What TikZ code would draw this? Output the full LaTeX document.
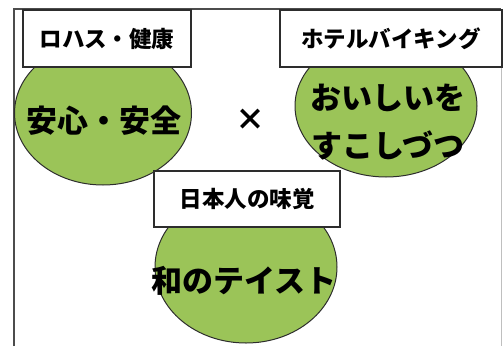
\documentclass[tikz,border=0pt]{standalone}
\usepackage{fontspec}
\newfontfamily\jp{Noto Sans CJK JP}
\usepackage{tikz}
\usetikzlibrary{shapes,positioning}
\definecolor{leaf}{RGB}{155,196,88}
\definecolor{rim}{RGB}{45,45,45}

\begin{document}
\begin{tikzpicture}[x=1pt,y=-1pt,font=\jp\bfseries]
		\tikzstyle{blob}=[ellipse, draw=rim, fill=leaf, line width=1pt, inner sep=0pt]
		\tikzstyle{tag}=[rectangle, draw=rim, fill=white, line width=1.2pt, inner sep=0pt, font=\jp\bfseries\fontsize{22.5}{24}\selectfont]
		\tikzstyle{bigtxt}=[align=center, inner sep=0pt, font=\jp\bfseries\fontsize{31}{48}\selectfont]
		\useasboundingbox (0,0) rectangle (504,346);
		% frame
		\draw[line width=1.2pt, color=black!70] (14,346) -- (14,9) -- (501,9);
		\draw[line width=0.8pt, color=black!25] (501,9) -- (501,346);
		% ellipses
		\node[blob, minimum width=177pt, minimum height=144pt] (anshin) at (103,113) {};
		\node[blob, minimum width=182pt, minimum height=142pt] (oishii) at (386,106) {};
		\node[blob, minimum width=182pt, minimum height=152pt] (wa) at (246,267) {};
		\node[bigtxt] (anshintxt) at (104,121) {安心・安全};
		\node[bigtxt] (oishiitxt) at (388,122) {おいしいを\\すこしづつ};
		\node[bigtxt] (watxt) at (244,281) {和のテイスト};
		\node[font=\jp\bfseries\fontsize{30}{30}\selectfont, inner sep=0pt] (kakeru) at (250,120) {×};
		% labels
		\node[tag, minimum width=168pt, minimum height=57pt] (lohas) at (107,38.5) {ロハス・健康};
		\node[tag, minimum width=222pt, minimum height=57pt] (hotel) at (391,38.5) {ホテルバイキング};
		\node[tag, minimum width=186pt, minimum height=56pt] (mikaku) at (247,199) {日本人の味覚};
	\end{tikzpicture}
\end{document}
